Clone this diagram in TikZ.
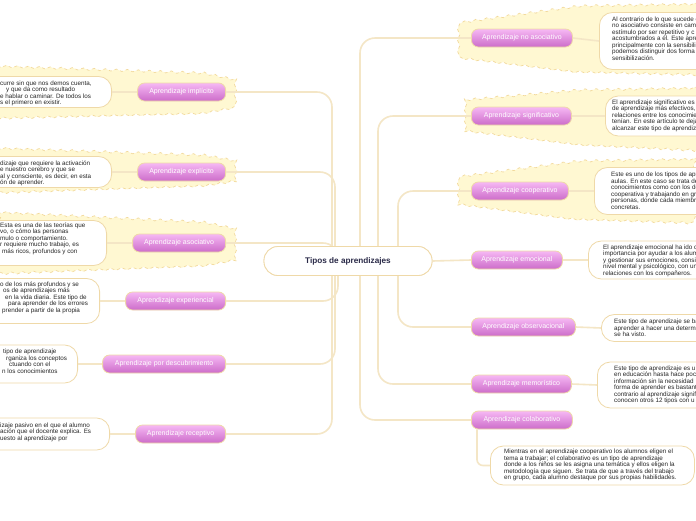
\documentclass[tikz,border=0pt]{standalone}
\usepackage{fontspec}
\setmainfont{Liberation Sans}
\usetikzlibrary{decorations.pathmorphing}
\definecolor{beige}{HTML}{EFD9A8}
\definecolor{connc}{HTML}{F4E6C6}
\definecolor{yel}{HTML}{FFF8D2}
\definecolor{yelb}{HTML}{F2D99C}
\definecolor{ptop}{HTML}{F6B8F4}
\definecolor{pbot}{HTML}{CC6CC9}
\definecolor{txt}{HTML}{262626}
\definecolor{ctxt}{HTML}{2A2A48}
\tikzset{
  conn/.style={draw=connc, line width=1.6pt},
  cloud/.style={fill=yel, draw=yelb, dashed, line width=0.7pt,
    decorate, decoration={snake, amplitude=1.1pt, segment length=11pt}},
  topic/.style={rounded corners=7pt, top color=ptop, bottom color=pbot, draw=beige,
    line width=0.8pt, text=white, font=\fontsize{7}{8}\selectfont, inner sep=0pt,
    minimum height=18pt},
  tbox/.style={draw=beige, fill=white, rounded corners=13pt, line width=0.8pt, inner sep=0pt},
  body/.style={font=\fontsize{6.3}{6.5}\selectfont, text=txt, align=left, inner sep=0pt, anchor=north west},
  central/.style={draw=beige, fill=white, rounded corners=14pt, line width=0.8pt,
    minimum width=168pt, minimum height=29pt, font=\bfseries\fontsize{8.2}{9}\selectfont, text=ctxt}
}
\begin{document}
\begin{tikzpicture}[x=1pt,y=-1pt]
\useasboundingbox (0,0) rectangle (696,520);
\clip (0,0) rectangle (696,520);
\fill[white] (0,0) rectangle (696,520);
% yellow clouds
\path[cloud] (-8,66) -- (200,73) -- (233,80) -- (233,108) -- (200,114) -- (-8,119) -- cycle;
\path[cloud] (-8,148) -- (200,155) -- (233,161) -- (233,186) -- (200,191) -- (-8,198) -- cycle;
\path[cloud] (-8,212) -- (200,222) -- (233,229) -- (233,260) -- (200,266) -- (-8,274) -- cycle;
\path[cloud] (704,4) -- (580,6) -- (465,22) -- (465,57) -- (580,71) -- (704,74) -- cycle;
\path[cloud] (704,88) -- (580,90) -- (465,100) -- (465,132) -- (580,146) -- (704,152) -- cycle;
\path[cloud] (704,159) -- (580,161) -- (465,176) -- (465,205) -- (580,220) -- (704,224) -- cycle;
% central node
\node[central] (c) at (348,261) {Tipos de aprendizajes};
% topic nodes
\node[topic, anchor=east, minimum width=88pt] (nImp) at (226,92) {Aprendizaje implícito};
\node[topic, anchor=east, minimum width=88pt] (nExp) at (226,172) {Aprendizaje explícito};
\node[topic, anchor=east, minimum width=93pt] (nAso) at (226,243) {Aprendizaje asociativo};
\node[topic, anchor=east, minimum width=100pt] (nExpe) at (226,301) {Aprendizaje experiencial};
\node[topic, anchor=east, minimum width=123pt] (nDes) at (226,364) {Aprendizaje por descubrimiento};
\node[topic, anchor=east, minimum width=90pt] (nRec) at (226,434) {Aprendizaje receptivo};
\node[topic, anchor=west, minimum width=101pt] (nNoA) at (471,38) {Aprendizaje no asociativo};
\node[topic, anchor=west, minimum width=100pt] (nSig) at (471,116) {Aprendizaje significativo};
\node[topic, anchor=west, minimum width=97pt] (nCoo) at (471,191) {Aprendizaje cooperativo};
\node[topic, anchor=west, minimum width=91pt] (nEmo) at (471,260) {Aprendizaje emocional};
\node[topic, anchor=west, minimum width=104pt] (nObs) at (471,327) {Aprendizaje observacional};
\node[topic, anchor=west, minimum width=100pt] (nMem) at (471,384) {Aprendizaje memorístico};
\node[topic, anchor=west, minimum width=101pt] (nCol) at (471,420) {Aprendizaje colaborativo};
% text boxes
\node[tbox, anchor=east, minimum width=172pt, minimum height=31pt] (bImp) at (112,92) {};
\node[tbox, anchor=east, minimum width=172pt, minimum height=31pt] (bExp) at (112,172) {};
\node[tbox, anchor=east, minimum width=172pt, minimum height=45pt] (bAso) at (107,243) {};
\node[tbox, anchor=east, minimum width=172pt, minimum height=45pt] (bExpe) at (100,301) {};
\node[tbox, anchor=east, minimum width=172pt, minimum height=38pt] (bDes) at (78,364) {};
\node[tbox, anchor=east, minimum width=172pt, minimum height=32pt] (bRec) at (110,434) {};
\node[tbox, anchor=west, minimum width=172pt, minimum height=57pt] (bNoA) at (599,41) {};
\node[tbox, anchor=west, minimum width=172pt, minimum height=40pt] (bSig) at (605,116) {};
\node[tbox, anchor=west, minimum width=172pt, minimum height=47pt] (bCoo) at (594,191) {};
\node[tbox, anchor=west, minimum width=172pt, minimum height=38pt] (bEmo) at (588,260) {};
\node[tbox, anchor=west, minimum width=172pt, minimum height=27pt] (bObs) at (601,328) {};
\node[tbox, anchor=west, minimum width=172pt, minimum height=46pt] (bMem) at (597,385) {};
\node[tbox, anchor=west, minimum width=204pt, minimum height=39pt] (bCol) at (490,465.5) {};
% texts
\node[body] (tImp) at (0,80.5) {curre sin que nos demos cuenta,\\\hspace*{6pt}y que da como resultado\\e hablar o caminar. De todos los\\s el primero en existir.};
\node[body] (tExp) at (0,160.5) {dizaje que requiere la activación\\e nuestro cerebro y que se\\al y consciente, es decir, en esta\\ón de aprender.};
\node[body] (tAso) at (0,222.5) {Esta es una de las teorías que\\vo, o cómo las personas\\mulo o comportamiento.\\r requiere mucho trabajo, es\\\hspace*{2pt}más ricos, profundos y con};
\node[body] (tExpe) at (0,281.5) {o de los más profundos y se\\\hspace*{3pt}os de aprendizajes más\\\hspace*{5pt}en la vida diaria. Este tipo de\\\hspace*{8pt}para aprender de los errores\\\hspace*{2pt}prender a partir de la propia};
\node[body] (tDes) at (0,349) {\hspace*{3pt}tipo de aprendizaje\\\hspace*{6pt}rganiza los conceptos\\\hspace*{9pt}ctuando con el\\\hspace*{2pt}n los conocimientos};
\node[body] (tRec) at (0,422.5) {izaje pasivo en el que el alumno\\ación que el docente explica. Es\\uesto al aprendizaje por};
\node[body] (tNoA) at (612,16.5) {Al contrario de lo que sucede c\\no asociativo consiste en camb\\estímulo por ser repetitivo y c\\acostumbrados a él. Este apre\\principalmente con la sensibili\\podemos distinguir dos forma\\sensibilización.};
\node[body] (tSig) at (612,99.5) {El aprendizaje significativo es\\de aprendizaje más efectivos,\\relaciones entre los conocimie\\tenían. En este artículo te deja\\alcanzar este tipo de aprendiz};
\node[body] (tCoo) at (611,172) {Este es uno de los tipos de apr\\aulas. En este caso se trata de\\conocimientos como con los de\\cooperativa y trabajando en gr\\personas, donde cada miembro\\concretas.};
\node[body] (tEmo) at (603,244.5) {El aprendizaje emocional ha ido c\\importancia por ayudar a los alum\\y gestionar sus emociones, consig\\nivel mental y psicológico, con un\\relaciones con los compañeros.};
\node[body] (tObs) at (614,319) {Este tipo de aprendizaje se ba\\aprender a hacer una determi\\se ha visto.};
\node[body] (tMem) at (614,365.5) {Este tipo de aprendizaje es u\\en educación hasta hace poco\\información sin la necesidad\\forma de aprender es bastant\\contrario al aprendizaje signif\\conocen otros 12 tipos con u};
\node[body] (tCol) at (504,449) {Mientras en el aprendizaje cooperativo los alumnos eligen el\\tema a trabajar; el colaborativo es un tipo de aprendizaje\\donde a los niños se les asigna una temática y ellos eligen la\\metodología que siguen. Se trata de que a través del trabajo\\en grupo, cada alumno destaque por sus propias habilidades.};
% connectors topic -> box
\foreach \a/\b in {nImp/bImp,nExp/bExp,nAso/bAso,nExpe/bExpe,nDes/bDes,nRec/bRec}
  \draw[conn] (\a.west) -- (\b.east);
\foreach \a/\b in {nNoA/bNoA,nSig/bSig,nCoo/bCoo,nEmo/bEmo,nObs/bObs,nMem/bMem}
  \draw[conn] (\a.east) -- (\b.west);
\draw[conn, rounded corners=6pt] ([xshift=6pt]nCol.south west) |- (bCol.west);
% trunk
\foreach \n/\xx in {nImp/332,nExp/335,nAso/338,nExpe/338,nDes/335,nRec/332}
  \draw[conn, rounded corners=15pt] (\xx,261) -- (\n.east -| \xx,0) -- (\n.east);
\foreach \n/\xx in {nNoA/360,nSig/378,nCoo/398,nObs/398,nMem/378,nCol/360}
  \draw[conn, rounded corners=15pt] (\xx,261) -- (\n.west -| \xx,0) -- (\n.west);
\draw[conn] (c.east) -- (nEmo.west);
\node[central] at (c) {Tipos de aprendizajes};
\end{tikzpicture}
\end{document}
